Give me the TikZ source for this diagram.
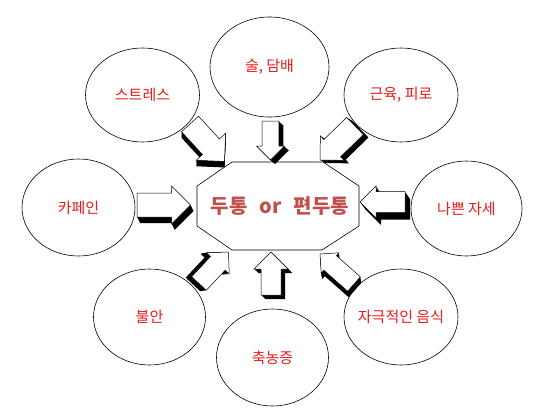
\documentclass[tikz,border=0pt]{standalone}
\usepackage{fontspec}
\setmainfont{Noto Sans CJK KR}
\usetikzlibrary{calc,shapes.geometric}
\definecolor{lab}{RGB}{232,28,28}
\definecolor{ctxt}{RGB}{192,80,77}
\def\barshape{(0,\barw) -- ({\barlen-\barh},\barw) -- ({\barlen-\barh},\barh) -- (\barlen,0) -- ({\barlen-\barh},-\barh) -- ({\barlen-\barh},-\barw) -- (0,-\barw) -- cycle}
% #1 tail coordinate, #2 tip coordinate, #3 half body width, #4 half head width, #5,#6 extrusion (screen px)
\newcommand\barrow[6]{%
  \path let \p1=($(#2)-(#1)$) in \pgfextra{\pgfmathsetmacro\barang{atan2(\y1,\x1)}\pgfmathsetmacro\barlen{veclen(\x1,\y1)}\global\let\barang\barang\global\let\barlen\barlen};
  \def\barw{#3}\def\barh{#4}%
  \begin{scope}[shift={(#1)}]
    \foreach \t in {0.125,0.25,0.375,0.5,0.625,0.75,0.875,1}{\fill[black, shift={({\t*(#5)},{\t*(#6)})}, rotate=\barang] \barshape;}
    \filldraw[fill=white, draw=black, line width=0.5pt, rotate=\barang] \barshape;
  \end{scope}}
\begin{document}
\begin{tikzpicture}[x=1pt,y=-1pt,
  bubble/.style={ellipse, draw=black, line width=0.6pt, inner sep=0pt},
  lbl/.style={text=lab, font=\fontsize{15}{18}\selectfont, inner sep=0pt}]
\useasboundingbox[fill=white] (0,0) rectangle (537,417);
% arrow end points
\coordinate (aT) at (137,205);   \coordinate (aH) at (190.5,205);
\coordinate (bT) at (405,202);   \coordinate (bH) at (360,202);
\coordinate (cT) at (190,124);   \coordinate (cH) at (224.5,161.5);
\coordinate (dT) at (270.5,121); \coordinate (dH) at (270.5,160);
\coordinate (eT) at (355,126);   \coordinate (eH) at (320,160);
\coordinate (fT) at (199,283.5); \coordinate (fH) at (228.5,252);
\coordinate (gT) at (271,295);   \coordinate (gH) at (271,252);
\coordinate (hT) at (354,284);   \coordinate (hH) at (320,254);
\barrow{aT}{aH}{12}{19}{3}{6}
\barrow{bT}{bH}{10.5}{16}{5}{7}
\barrow{cT}{cH}{11.5}{20}{0}{6}
\barrow{dT}{dH}{8.3}{14}{4.5}{4}
\barrow{eT}{eH}{12}{17}{5}{3}
\barrow{fT}{fH}{10}{15.5}{-6}{1}
\barrow{gT}{gH}{10}{17}{4}{4}
\barrow{hT}{hH}{9.6}{13.5}{1}{6}
% bubbles
\node[bubble, minimum width=114pt, minimum height=94pt] (stress) at (142.5,95) {};
\node[lbl] at (stress) {스트레스};
\node[bubble, minimum width=119pt, minimum height=100pt] (alc) at (269.5,67) {};
\node[lbl] at (alc) {술, 담배};
\node[bubble, minimum width=114pt, minimum height=94pt] (mus) at (401,95) {};
\node[lbl] at (mus) {근육, 피로};
\node[bubble, minimum width=113pt, minimum height=97pt] (caf) at (78.5,207.5) {};
\node[lbl] at (caf) {카페인};
\node[bubble, minimum width=111pt, minimum height=95pt] (pos) at (466.5,208.5) {};
\node[lbl] at (pos) {나쁜 자세};
\node[bubble, minimum width=112pt, minimum height=96pt] (anx) at (149.5,317) {};
\node[lbl] at (anx) {불안};
\node[bubble, minimum width=112pt, minimum height=97pt] (sin) at (272.5,357.5) {};
\node[lbl] at (sin) {축농증};
\node[bubble, minimum width=114pt, minimum height=96pt] (food) at (401,317) {};
\node[lbl] at (food) {자극적인 음식};
% center octagon
\draw[line width=0.6pt] (232,162) -- (323,162) -- (359,186) -- (359,226) -- (322,250) -- (232,250) -- (197,226) -- (197,186) -- cycle;
\node[text=ctxt, font=\fontsize{20}{24}\selectfont\bfseries, inner sep=0pt] (ctr) at (280,206) {두통\hspace{0.6em}or\hspace{0.6em}편두통};
\end{tikzpicture}
\end{document}
